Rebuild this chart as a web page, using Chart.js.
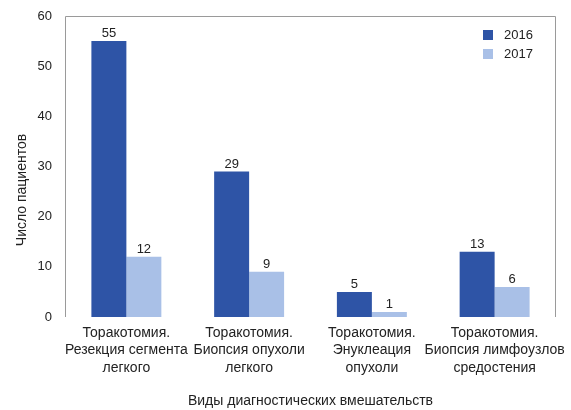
<!DOCTYPE html>
<html>
<head>
<meta charset="utf-8">
<script src="https://cdn.jsdelivr.net/npm/chart.js@4"></script>
<style>
  html, body { margin: 0; padding: 0; background: #fff; }
  #wrap { width: 571px; height: 410px; }
</style>
</head>
<body>
<div id="wrap"><canvas id="c" width="571" height="410"></canvas></div>
<script>
// Procedure types (multi-line category labels)
const categories = [
  ['Торакотомия.', 'Резекция сегмента', 'легкого'],
  ['Торакотомия.', 'Биопсия опухоли', 'легкого'],
  ['Торакотомия.', 'Энуклеация', 'опухоли'],
  ['Торакотомия.', 'Биопсия лимфоузлов', 'средостения']
];
const years = ['2016', '2017'];
const patients2016 = [55, 29, 5, 13];
const patients2017 = [12, 9, 1, 6];
const yTicks = [0, 10, 20, 30, 40, 50, 60];

const FONT = 'Arial, "Liberation Sans", Helvetica, sans-serif';
const TEXT = '#222';
const DARK = '#2e54a6';
const LIGHT = '#a9c0e7';

// Values printed above each bar
const valueLabels = {
  id: 'valueLabels',
  afterDatasetsDraw(chart) {
    const ctx = chart.ctx;
    ctx.save();
    ctx.font = '13px ' + FONT;
    ctx.fillStyle = TEXT;
    ctx.textAlign = 'center';
    ctx.textBaseline = 'bottom';
    chart.data.datasets.forEach((ds, i) => {
      chart.getDatasetMeta(i).data.forEach((bar, j) => {
        ctx.fillText(String(ds.data[j]), bar.x, bar.y - 1);
      });
    });
    ctx.restore();
  }
};

// Frame around the plot (left, top, right sides)
const plotFrame = {
  id: 'plotFrame',
  beforeDatasetsDraw(chart) {
    const {left, right, top, bottom} = chart.chartArea;
    const ctx = chart.ctx;
    ctx.save();
    ctx.strokeStyle = '#9a9a9a';
    ctx.lineWidth = 1;
    ctx.beginPath();
    ctx.moveTo(left + 0.5, bottom);
    ctx.lineTo(left + 0.5, top + 0.5);
    ctx.lineTo(right - 0.5, top + 0.5);
    ctx.lineTo(right - 0.5, bottom);
    ctx.stroke();
    ctx.restore();
  }
};

// Legend inside the plot, stacked vertically at the top right
const innerLegend = {
  id: 'innerLegend',
  afterDraw(chart) {
    const ctx = chart.ctx;
    const x = chart.chartArea.right - 73;
    let y = chart.chartArea.top + 19;
    ctx.save();
    ctx.font = '13px ' + FONT;
    ctx.textBaseline = 'middle';
    ctx.textAlign = 'left';
    chart.data.datasets.forEach(ds => {
      ctx.fillStyle = ds.backgroundColor;
      ctx.fillRect(x, y - 5, 10, 10);
      ctx.fillStyle = TEXT;
      ctx.fillText(ds.label, x + 21, y);
      y += 19;
    });
    ctx.restore();
  }
};

// Vertical axis caption
const yCaption = {
  id: 'yCaption',
  afterDraw(chart) {
    const ctx = chart.ctx;
    ctx.save();
    ctx.font = '14px ' + FONT;
    ctx.fillStyle = TEXT;
    ctx.textAlign = 'center';
    ctx.textBaseline = 'middle';
    ctx.translate(22, 190);
    ctx.rotate(-Math.PI / 2);
    ctx.fillText('Число пациентов', 0, 0);
    ctx.restore();
  }
};

new Chart(document.getElementById('c'), {
  type: 'bar',
  data: {
    labels: categories,
    datasets: [
      { label: years[0], data: patients2016, backgroundColor: DARK },
      { label: years[1], data: patients2017, backgroundColor: LIGHT }
    ]
  },
  options: {
    responsive: false,
    animation: false,
    devicePixelRatio: 1,
    layout: { padding: { top: 16, right: 15, left: 0, bottom: 0 } },
    datasets: { bar: { categoryPercentage: 0.57, barPercentage: 1 } },
    plugins: { legend: { display: false }, tooltip: { enabled: false } },
    scales: {
      x: {
        grid: { display: false, drawTicks: false },
        border: { display: false },
        ticks: {
          color: TEXT,
          font: { family: FONT, size: 14, lineHeight: 1.22 },
          padding: 8,
          maxRotation: 0,
          autoSkip: false
        },
        title: {
          display: true,
          text: 'Виды диагностических вмешательств',
          color: TEXT,
          font: { family: FONT, size: 14 },
          padding: { top: 0, bottom: 0 }
        },
        afterFit(scale) {
          scale.height = 93;
          scale.paddingLeft = 0;
          scale.paddingRight = 0;
        }
      },
      y: {
        min: 0,
        max: 60,
        afterBuildTicks(scale) { scale.ticks = yTicks.map(v => ({ value: v })); },
        grid: { display: false, drawTicks: false },
        border: { display: false },
        ticks: {
          color: TEXT,
          font: { family: FONT, size: 13 },
          padding: 13
        },
        afterFit(scale) {
          scale.width = 65;
          scale.paddingTop = 0;
          scale.paddingBottom = 0;
        }
      }
    }
  },
  plugins: [plotFrame, valueLabels, innerLegend, yCaption]
});
</script>
</body>
</html>
